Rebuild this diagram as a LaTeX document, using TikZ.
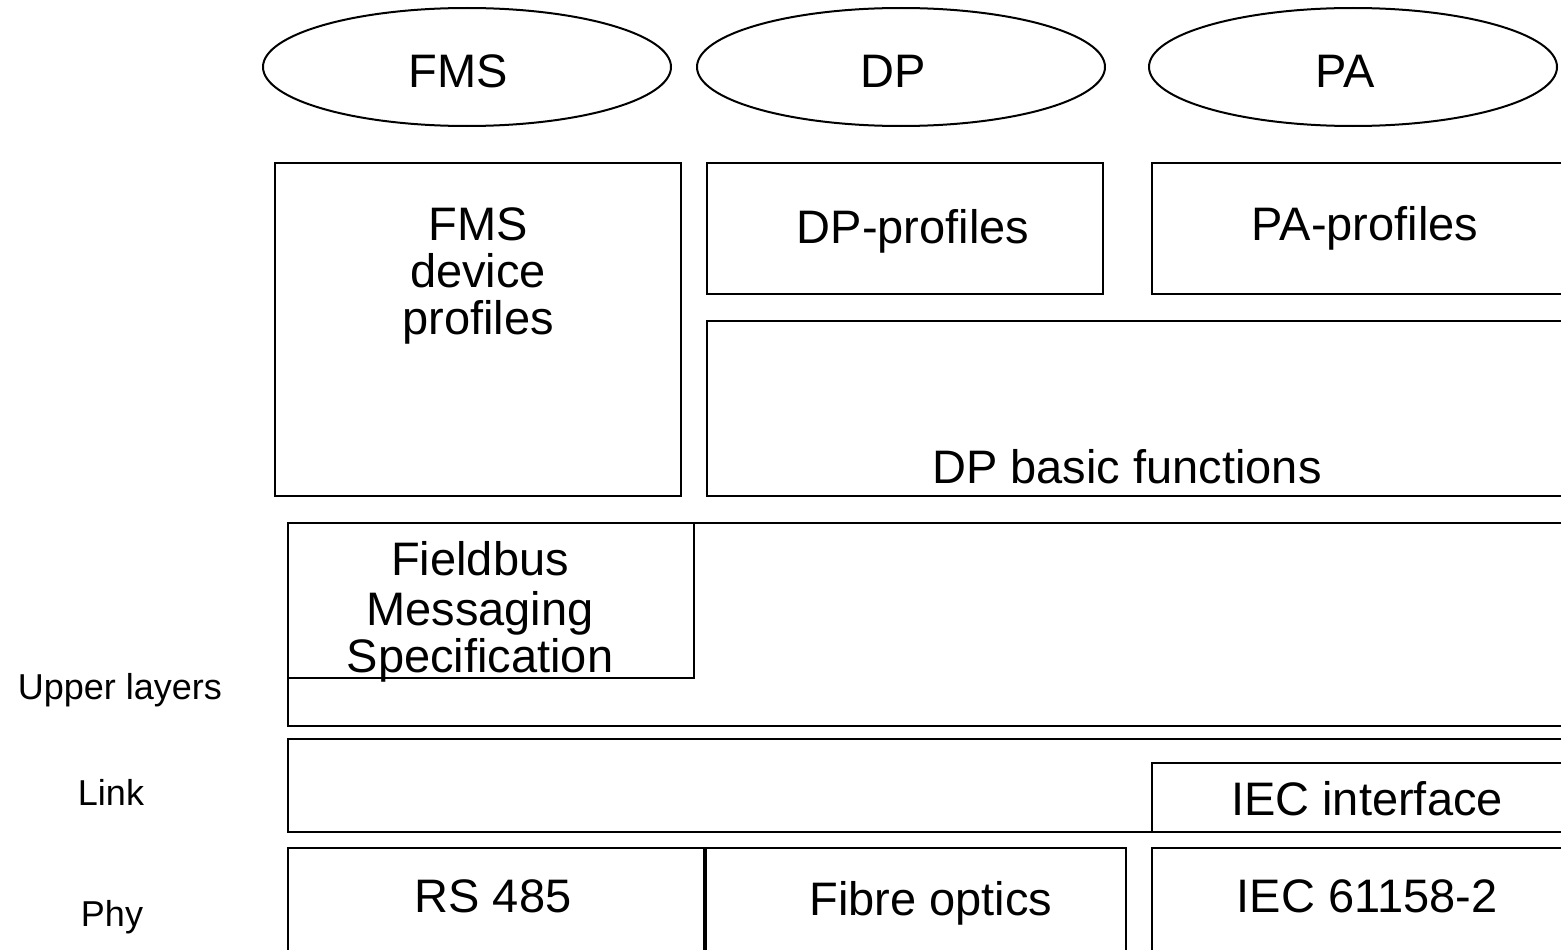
\documentclass[tikz,border=0pt]{standalone}
\usepackage{fontspec}
\setmainfont{Liberation Sans}
\usetikzlibrary{shapes.geometric}
\tikzset{
  box/.style={draw=black, line width=2pt},
  oval/.style={draw=black, line width=2pt, ellipse, minimum width=408pt, minimum height=118pt, inner sep=0pt},
  big/.style={anchor=base, inner sep=0pt, font=\fontsize{47}{47}\selectfont},
  small/.style={anchor=base, inner sep=0pt, font=\fontsize{36}{36}\selectfont},
}
\begin{document}
\begin{tikzpicture}[x=1pt, y=-1pt]
\useasboundingbox (0,0) rectangle (1561,950);
\clip (0,0) rectangle (1561,950);
% ellipses
\node[oval] (efms) at (467,67) {};
\node[oval] (edp) at (901,67) {};
\node[oval] (epa) at (1353,67) {};
\node[big] (tfms) at (458,88) {FMS};
\node[big] (tdp) at (893,88) {DP};
\node[big] (tpa) at (1345,88) {PA};
% profile boxes
\draw[box] (275,163) rectangle (681,496);
\draw[box] (707,163) rectangle (1103,294);
\draw[box] (1152,163) rectangle (1580,294);
\draw[box] (707,321) rectangle (1580,496);
\node[big] (fdp1) at (478,240) {FMS};
\node[big] (fdp2) at (478,287) {device};
\node[big] (fdp3) at (478,334) {profiles};
\node[big] (dpp) at (913,243) {DP-profiles};
\node[big] (pap) at (1365,240) {PA-profiles};
\node[big] (dpb) at (1127,483) {DP basic functions};
% upper layers
\draw[box] (288,523) rectangle (1580,726);
\draw[box] (288,523) rectangle (694,678);
\node[big] (fms1) at (480,575) {Fieldbus};
\node[big] (fms2) at (480,625) {Messaging};
\node[big] (fms3) at (480,672) {Specification};
% link
\draw[box] (288,739) rectangle (1580,832);
\draw[box] (1152,763) rectangle (1580,832);
\node[big] (iecif) at (1367,815) {IEC interface};
% phy
\draw[box] (288,848) rectangle (704,970);
\draw[box] (706,848) rectangle (1126,970);
\draw[box] (1152,848) rectangle (1580,970);
\node[big] (rs) at (493,912) {RS 485};
\node[big] (fo) at (931,915) {Fibre optics};
\node[big] (iec) at (1367,912) {IEC 61158-2};
% layer labels
\node[small] (lu) at (120,699) {Upper layers};
\node[small] (ll) at (111,805) {Link};
\node[small] (lp) at (112,926) {Phy};
\end{tikzpicture}
\end{document}
